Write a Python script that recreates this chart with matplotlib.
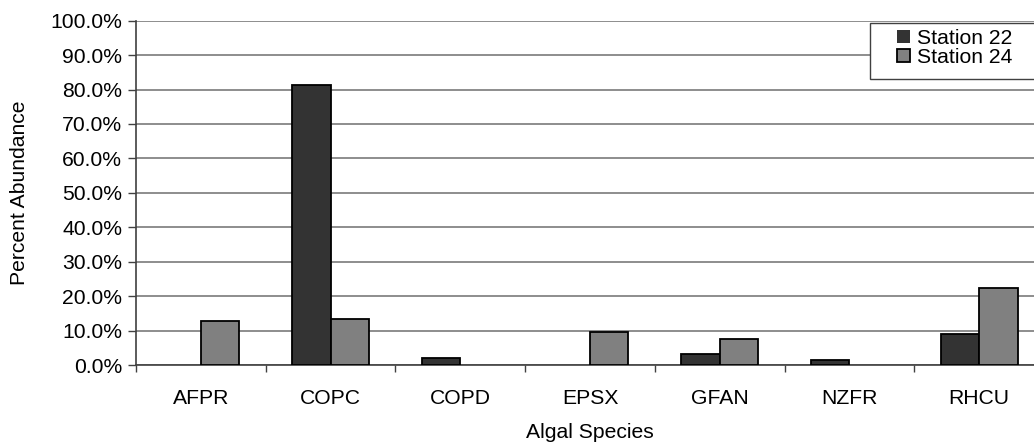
import matplotlib
matplotlib.use("Agg")
import matplotlib.pyplot as plt
import numpy as np
from matplotlib.ticker import FuncFormatter
from matplotlib.patches import Rectangle

categories = ["AFPR", "COPC", "COPD", "EPSX", "GFAN", "NZFR", "RHCU"]
station22 = [0.0, 81.4, 1.9, 0.0, 3.1, 1.4, 8.9]
station24 = [12.9, 13.4, 0.0, 9.5, 7.6, 0.0, 22.3]
series_names = ["Station 22", "Station 24"]
yticks = [0, 10, 20, 30, 40, 50, 60, 70, 80, 90, 100]

plt.rcParams['font.family'] = ['Liberation Sans', 'DejaVu Sans']
FS = 15.2
W, H = 1034, 444
fig = plt.figure(figsize=(W / 100, H / 100), dpi=100)
left, right, bottom, top = 136 / W, 1044 / W, 1 - 365 / H, 1 - 20.7 / H
ax = fig.add_axes([left, bottom, right - left, top - bottom])

x = np.arange(len(categories))
bw = 0.296
for vals, col, name, off in [(station22, "#333333", series_names[0], -bw / 2),
                             (station24, "#808080", series_names[1], bw / 2)]:
    lws = [1.3 if v > 0 else 0 for v in vals]
    ax.bar(x + off, vals, bw, color=col, edgecolor="black", linewidth=lws,
           label=name, zorder=3)

ax.set_xlim(-0.5, len(categories) - 0.5)
ax.set_ylim(0, 100)
ax.set_yticks(yticks)
ax.yaxis.set_major_formatter(FuncFormatter(lambda v, p: f"{v:.1f}%"))
ax.set_xticks(x)
ax.set_xticklabels(categories)
ax.set_xticks(np.arange(-0.5, len(categories) + 0.5, 1), minor=True)
ax.tick_params(axis="x", which="major", length=0, pad=17, labelsize=FS)
ax.tick_params(axis="x", which="minor", length=5, width=1, color="#404040")
ax.tick_params(axis="y", length=6, width=1, color="#404040", labelsize=FS, pad=4)
ax.yaxis.grid(True, color="#7a7a7a", linewidth=1.2, zorder=0)
ax.set_axisbelow(True)
for s in ["top", "right"]:
    ax.spines[s].set_visible(False)
for s in ["left", "bottom"]:
    ax.spines[s].set_color("#404040")
    ax.spines[s].set_linewidth(1.2)

ax.set_ylabel("Percent Abundance", fontsize=FS)
ax.yaxis.set_label_coords((29 - 136) / 908, 0.5)
ax.set_xlabel("Algal Species", fontsize=FS, labelpad=11)

# legend frame (extends past the right edge as in the reference)
fig.patches.append(Rectangle((870 / W, 1 - 79 / H), 200 / W, 56 / H,
                             transform=fig.transFigure, facecolor="white",
                             edgecolor="#404040", linewidth=1.0, zorder=5))
handles, labels = ax.get_legend_handles_labels()
leg = fig.legend(handles, labels, loc="upper left",
                 bbox_to_anchor=(897 / W, 1 - 29 / H),
                 fontsize=FS, frameon=False, handlelength=0.62,
                 handleheight=0.62, handletextpad=0.35, labelspacing=0.0,
                 borderpad=0.0, borderaxespad=0)
leg.set_zorder(6)

fig.savefig("out.png", dpi=100)
